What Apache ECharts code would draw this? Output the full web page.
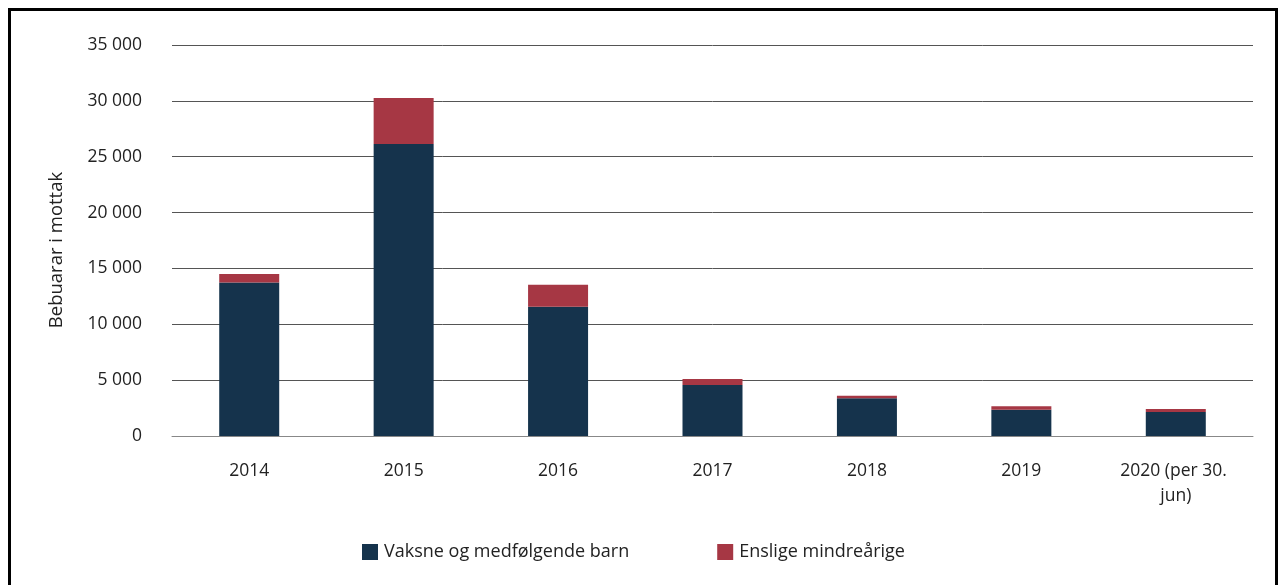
<!DOCTYPE html>
<html>
<head>
<meta charset="utf-8">
<script src="https://cdn.jsdelivr.net/npm/echarts@6/dist/echarts.min.js"></script>
<style>
html,body{margin:0;padding:0;background:#fff;}
#frame{position:absolute;left:8px;top:8px;width:1264px;height:590px;border:3px solid #000;}
#chart{position:absolute;left:0;top:0;width:1285px;height:585px;}
</style>
</head>
<body>
<div id="frame"></div>
<div id="chart"></div>
<script>
const categories = ["2014", "2015", "2016", "2017", "2018", "2019", "2020 (per 30. jun)"];
const vaksne = [13750, 26130, 11570, 4570, 3370, 2360, 2150];
const enslige = [750, 4130, 1970, 530, 240, 300, 270];
const seriesNames = ["Vaksne og medfølgende barn", "Enslige mindreårige"];
const yAxisTitle = "Bebuarar i mottak";

const font = "'Open Sans', 'Noto Sans', sans-serif";
const chart = echarts.init(document.getElementById('chart'), null, {renderer: 'canvas'});
chart.setOption({
  animation: false,
  textStyle: {fontFamily: font},
  grid: {left: 172, right: 32, top: 45, bottom: 149, containLabel: false},
  legend: {
    bottom: 19, left: 357, itemGap: 88, itemWidth: 16, itemHeight: 16,
    icon: 'rect',
    textStyle: {fontFamily: font, fontSize: 18, color: '#222', padding: [0, 0, 0, 1]},
    data: seriesNames
  },
  xAxis: {
    type: 'category', data: categories,
    axisLine: {lineStyle: {color: '#888', width: 1}},
    axisTick: {show: false},
    axisLabel: {interval: 0, fontFamily: font, fontSize: 17.5, color: '#222', margin: 23, width: 120, overflow: 'break', lineHeight: 25}
  },
  yAxis: {
    type: 'value', min: 0, max: 35000, interval: 5000,
    axisLine: {show: false}, axisTick: {show: false},
    splitLine: {lineStyle: {color: '#555', width: 1}},
    axisLabel: {fontFamily: font, fontSize: 17.5, color: '#222', margin: 30,
      formatter: v => v === 0 ? '0' : String(v).replace(/\B(?=(\d{3})+(?!\d))/g, ' ')}
  },
  graphic: [{
    type: 'text', x: 57, y: 250, rotation: Math.PI / 2,
    style: {text: yAxisTitle, fontFamily: font, fontSize: 18.5, fill: '#222', align: 'center', verticalAlign: 'middle'}
  }],
  series: [
    {name: seriesNames[0], type: 'bar', stack: 's', data: vaksne, barWidth: 60, itemStyle: {color: '#15334C'}},
    {name: seriesNames[1], type: 'bar', stack: 's', data: enslige, barWidth: 60, itemStyle: {color: '#A63744'}}
  ]
});
</script>
</body>
</html>
